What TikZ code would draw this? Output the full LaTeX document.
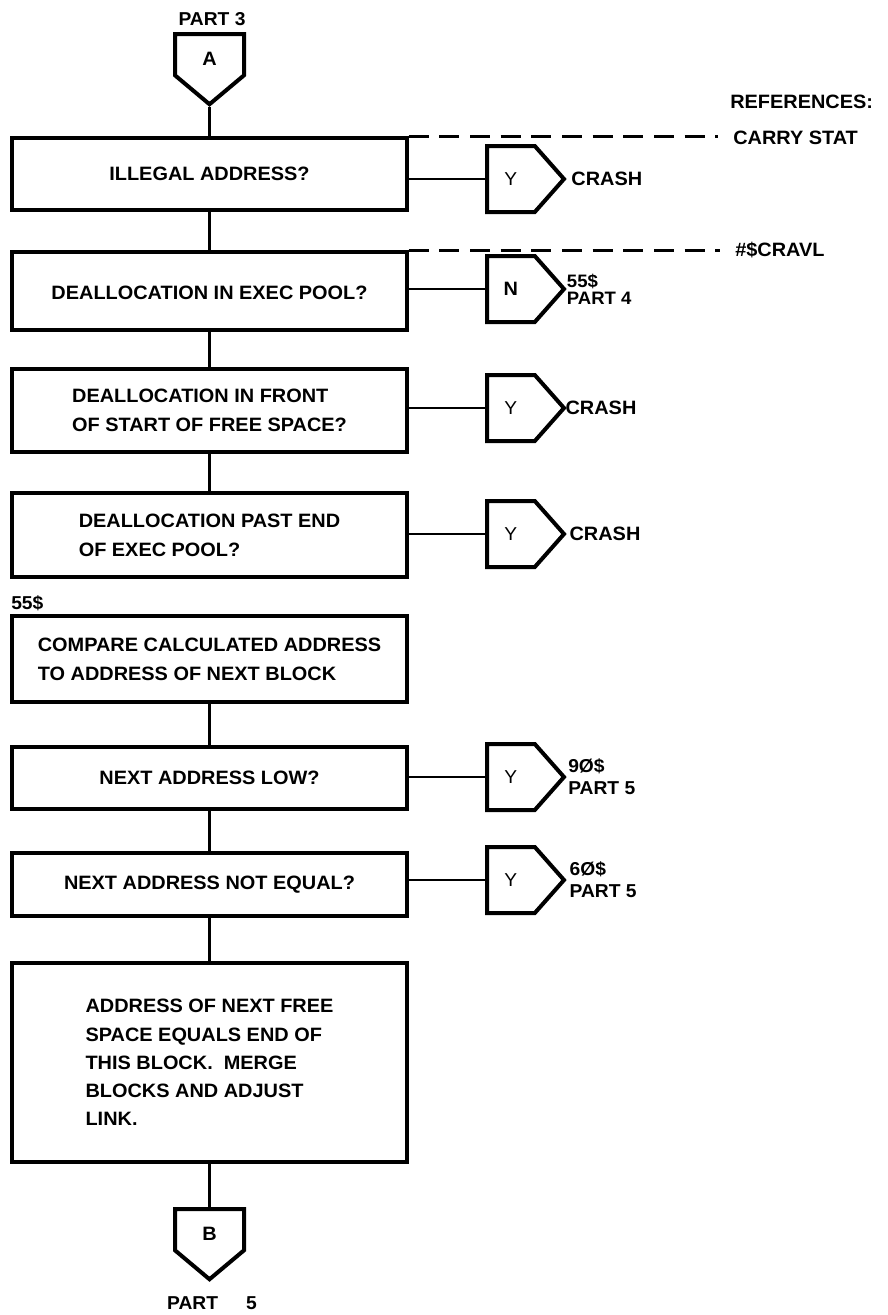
\documentclass[tikz,border=0pt]{standalone}
\usepackage{fontspec}
\setmainfont{Liberation Sans}[FakeStretch=1.03]
\usetikzlibrary{shapes.symbols}

\begin{document}
\begin{tikzpicture}[x=0.75pt,y=-0.75pt,
  every node/.style={font=\fontsize{14.5}{21.75}\selectfont\bfseries},
  box/.style={draw, line width=2.8pt, minimum width=296pt, inner sep=0pt, align=left},
  flow/.style={line width=1.9pt},
  refline/.style={line width=2.4pt, dash pattern=on 15pt off 8pt},
  offpage/.style={draw, line width=3pt, shape=signal, signal to=east,
    signal pointer angle=97, minimum width=57.75pt, minimum height=49.5pt,
    inner sep=0pt, anchor=west},
  onpage/.style={draw, line width=3pt, shape=signal, signal to=south,
    signal pointer angle=100, minimum width=51.75pt, minimum height=35.5pt,
    inner sep=0pt, anchor=north, text depth=0pt},
  lbl/.style={anchor=west, inner sep=0pt, align=left,
    font=\fontsize{14.5}{16}\selectfont\bfseries},
  lbltwo/.style={lbl, font=\fontsize{14}{16.5}\selectfont\bfseries},
  lblsmall/.style={lbl, font=\fontsize{13.5}{12.75}\selectfont\bfseries},
  yes/.style={font=\fontsize{14}{16}\selectfont}
]
\useasboundingbox (0,0) rectangle (888,1315);

% entry connector
\node[inner sep=0pt, font=\fontsize{14}{16}\selectfont\bfseries] (p3) at (212,19) {PART 3};
\node[onpage] (A) at (209.5,32) {\raisebox{-7pt}{A}};

% process and decision boxes
\node[box, minimum height=54pt]    (b1) at (209.5,174)    {ILLEGAL ADDRESS?};
\node[box, minimum height=58.5pt, text depth=0pt] (b2) at (209.5,291) {\raisebox{-3pt}{DEALLOCATION IN EXEC POOL?}};
\node[box, minimum height=62.25pt] (b3) at (209.5,410.5)  {DEALLOCATION IN FRONT\\OF START OF FREE SPACE?};
\node[box, minimum height=63pt]    (b4) at (209.5,535)    {DEALLOCATION PAST END\\OF EXEC POOL?};
\node[lbltwo] (e55) at (11,603) {55\$};
\node[box, minimum height=64.5pt]  (b5) at (209.5,659)    {COMPARE CALCULATED ADDRESS\\TO ADDRESS OF NEXT BLOCK};
\node[box, minimum height=46.5pt]  (b6) at (209.5,778)    {NEXT ADDRESS LOW?};
\node[box, minimum height=47.25pt] (b7) at (209.5,884.5)  {NEXT ADDRESS NOT EQUAL?};
\node[box, minimum height=149.25pt, font=\fontsize{14.5}{21.2}\selectfont\bfseries]
  (b8) at (209.5,1062.5) {ADDRESS OF NEXT FREE\\SPACE EQUALS END OF\\THIS BLOCK.\ \ MERGE\\BLOCKS AND ADJUST\\LINK.};

% exit connector
\node[onpage] (B) at (209.5,1207) {\raisebox{-7pt}{B}};
\node[inner sep=0pt, font=\fontsize{14}{16}\selectfont\bfseries] (p5) at (212,1303) {PART\hspace{21pt}5};

% off-page branch connectors
\node[offpage, yes] (c1) at (485,179) {Y};
\node[offpage]      (c2) at (485,289) {N};
\node[offpage, yes] (c3) at (485,408) {Y};
\node[offpage, yes] (c4) at (485,534) {Y};
\node[offpage, yes] (c6) at (485,777) {Y};
\node[offpage, yes] (c7) at (485,880) {Y};

\node[lbl] (t1) at ([xshift=3.4pt]c1.east) {CRASH};
\node[lblsmall] (t2) at ([xshift=0pt]c2.east) {55\$\\PART 4};
\node[lbl] (t3) at ([xshift=-1pt]c3.east) {CRASH};
\node[lbl] (t4) at ([xshift=2pt]c4.east) {CRASH};
\node[lbltwo] (t6) at ([xshift=1pt]c6.east) {9Ø\$\\PART 5};
\node[lbltwo] (t7) at ([xshift=2pt]c7.east) {6Ø\$\\PART 5};

% reference column
\node[lbl] (refs)  at (730,102) {REFERENCES:};
\node[lbl] (carry) at (733,138) {CARRY STAT};
\node[lbl] (cravl) at (735,250) {\#\$CRAVL};

% main flow
\draw[flow] (A.south) -- (A.south |- b1.north);
\draw[flow] (b1.south) -- (b2.north);
\draw[flow] (b2.south) -- (b3.north);
\draw[flow] (b3.south) -- (b4.north);
\draw[flow] (b5.south) -- (b6.north);
\draw[flow] (b6.south) -- (b7.north);
\draw[flow] (b7.south) -- (b8.north);
\draw[flow] (b8.south) -- (B.north);

% branches
\draw[flow] (b1.east |- c1.west) -- (c1.west);
\draw[flow] (b2.east |- c2.west) -- (c2.west);
\draw[flow] (b3.east |- c3.west) -- (c3.west);
\draw[flow] (b4.east |- c4.west) -- (c4.west);
\draw[flow] (b6.east |- c6.west) -- (c6.west);
\draw[flow] (b7.east |- c7.west) -- (c7.west);

% reference leaders
\draw[refline, shorten >=11pt] (b1.north east) -- (b1.north east -| carry.west);
\draw[refline, shorten >=11pt] (b2.north east) -- (b2.north east -| cravl.west);
\end{tikzpicture}
\end{document}
